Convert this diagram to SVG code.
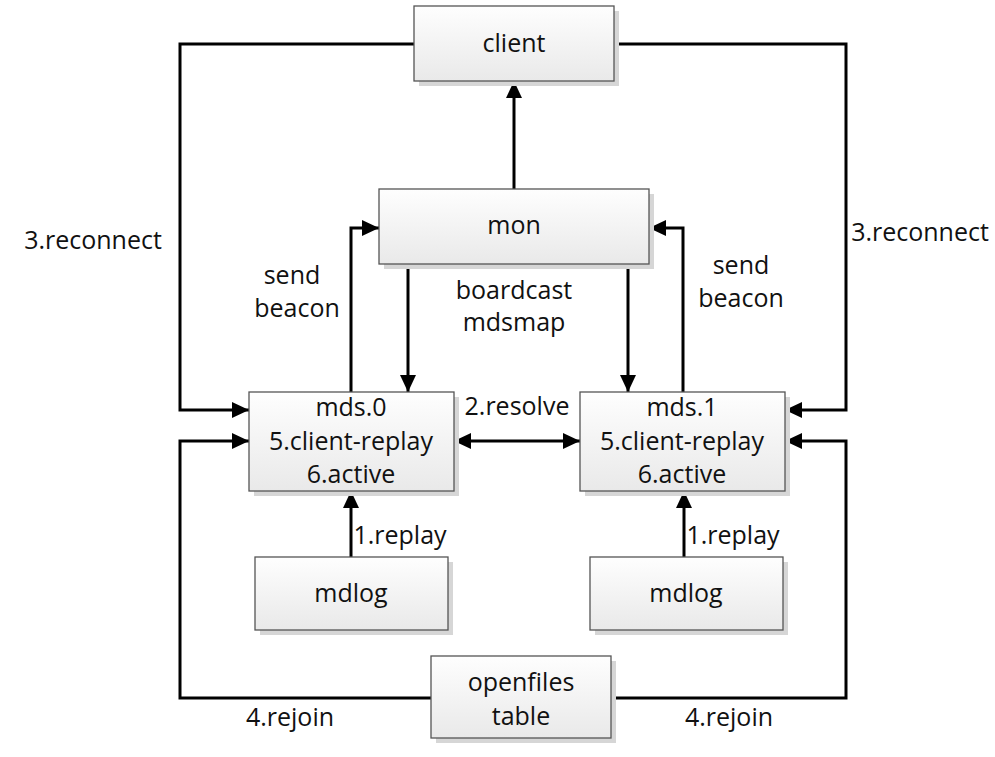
<svg xmlns="http://www.w3.org/2000/svg" width="995" height="757" viewBox="0 0 995 757">
<defs>
<linearGradient id="g" x1="0" y1="0" x2="0" y2="1"><stop offset="0" stop-color="#fefefe"/><stop offset="1" stop-color="#e9e9e9"/></linearGradient>
<marker id="a" viewBox="0 0 17 16" refX="17" refY="8" markerWidth="17" markerHeight="16" markerUnits="userSpaceOnUse" orient="auto-start-reverse"><path d="M0,0 L17,8 L0,16 z" fill="#000"/></marker>
</defs>
<style>
.sh{fill:#d6d6d6}
.bx{fill:url(#g);stroke:#555;stroke-width:1.3}
text{font-family:"Open Sans","Liberation Sans",Arial,sans-serif;font-size:25px;fill:#111;text-anchor:middle}
.c path{fill:none;stroke:#000;stroke-width:3}
</style>
<rect width="995" height="757" fill="#fff"/>
<g class="c">
<path d="M414,44 H180 V410 H249" marker-end="url(#a)"/>
<path d="M614,44 H846 V410 H785" marker-end="url(#a)"/>
<path d="M514,189 V81" marker-end="url(#a)"/>
<path d="M351,392 V228 H379" marker-end="url(#a)"/>
<path d="M683,392 V228 H649" marker-end="url(#a)"/>
<path d="M408,264 V392" marker-end="url(#a)"/>
<path d="M628,264 V392" marker-end="url(#a)"/>
<path d="M454,441 H580" marker-start="url(#a)" marker-end="url(#a)"/>
<path d="M351,557 V491" marker-end="url(#a)"/>
<path d="M684,557 V491" marker-end="url(#a)"/>
<path d="M431,698 H180 V441 H249" marker-end="url(#a)"/>
<path d="M611,698 H846 V441 H785" marker-end="url(#a)"/>
</g>
<g id="client"><rect class="sh" x="419" y="11" width="200" height="75"/><rect class="bx" x="414" y="6" width="200" height="75"/><text x="514" y="52">client</text></g>
<g id="mon"><rect class="sh" x="384" y="194" width="270" height="75"/><rect class="bx" x="379" y="189" width="270" height="75"/><text x="514" y="234">mon</text></g>
<g id="mds0"><rect class="sh" x="254" y="397" width="205" height="99"/><rect class="bx" x="249" y="392" width="205" height="99"/><text x="351" y="416">mds.0</text><text x="351" y="450">5.client-replay</text><text x="351" y="483">6.active</text></g>
<g id="mds1"><rect class="sh" x="585" y="397" width="205" height="99"/><rect class="bx" x="580" y="392" width="205" height="99"/><text x="682" y="416">mds.1</text><text x="682" y="450">5.client-replay</text><text x="682" y="483">6.active</text></g>
<g id="mdlog0"><rect class="sh" x="260" y="562" width="193" height="73"/><rect class="bx" x="255" y="557" width="193" height="73"/><text x="351" y="602">mdlog</text></g>
<g id="mdlog1"><rect class="sh" x="595" y="562" width="193" height="73"/><rect class="bx" x="590" y="557" width="193" height="73"/><text x="686" y="602">mdlog</text></g>
<g id="openfiles"><rect class="sh" x="436" y="661" width="180" height="82"/><rect class="bx" x="431" y="656" width="180" height="82"/><text x="521" y="691">openfiles</text><text x="521" y="725">table</text></g>
<g id="labels">
<text x="93" y="249">3.reconnect</text>
<text x="920" y="241">3.reconnect</text>
<text x="292" y="284">send</text><text x="297" y="317">beacon</text>
<text x="741" y="274">send</text><text x="741" y="307">beacon</text>
<text x="514" y="299">boardcast</text><text x="514" y="331">mdsmap</text>
<text x="517" y="415">2.resolve</text>
<text x="400" y="544">1.replay</text>
<text x="733" y="544">1.replay</text>
<text x="290" y="726">4.rejoin</text>
<text x="729" y="726">4.rejoin</text>
</g>
</svg>
